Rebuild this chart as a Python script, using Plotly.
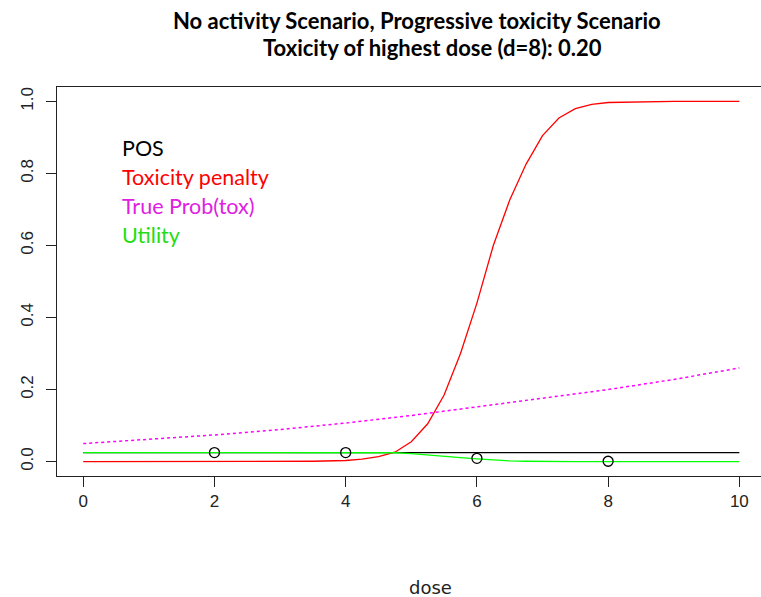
import plotly.graph_objects as go

# dosis continua para las curvas
dose_grid = [0, 1, 2, 3, 3.5, 4, 4.25, 4.5, 4.75, 5, 5.25, 5.5, 5.75, 6,
             6.25, 6.5, 6.75, 7, 7.25, 7.5, 7.75, 8, 8.5, 9, 10]

pos = [0.025] * len(dose_grid)

tox_penalty = [0, 0, 0, 0, 0.001, 0.003, 0.007, 0.014, 0.026, 0.055, 0.105,
               0.185, 0.30, 0.44, 0.60, 0.726, 0.826, 0.905, 0.954, 0.98,
               0.992, 0.997, 0.999, 1.0, 1.0]

utility = [0.025, 0.025, 0.025, 0.025, 0.025, 0.025, 0.025, 0.025, 0.0245,
           0.022, 0.019, 0.015, 0.011, 0.0075, 0.004, 0.002, 0.001, 0.0,
           0.0, 0.0, 0.0, 0.0, 0.0, 0.0, 0.0]

# probabilidad real de toxicidad
tox_dose = [0, 1, 2, 3, 4, 5, 6, 7, 8, 9, 10]
true_tox = [0.05, 0.061, 0.074, 0.089, 0.107, 0.128, 0.152, 0.178, 0.20, 0.228, 0.26]

# dosis observadas
obs_dose = [2, 4, 6, 8]
obs_util = [0.025, 0.025, 0.009, 0.001]

x_ticks = [0, 2, 4, 6, 8, 10]
y_ticks = [0.0, 0.2, 0.4, 0.6, 0.8, 1.0]

legend_items = ["POS", "Toxicity penalty", "True Prob(tox)", "Utility"]
legend_colors = ["black", "#ff0000", "#e020e0", "#22dd11"]

fig = go.Figure()
fig.add_trace(go.Scatter(x=dose_grid, y=pos, mode="lines",
                         line=dict(color="black", width=1.3)))
fig.add_trace(go.Scatter(x=dose_grid, y=tox_penalty, mode="lines",
                         line=dict(color="#ff0000", width=1.3)))
fig.add_trace(go.Scatter(x=tox_dose, y=true_tox, mode="lines",
                         line=dict(color="#ff00ff", width=1.5, dash="dot")))
fig.add_trace(go.Scatter(x=dose_grid, y=utility, mode="lines",
                         line=dict(color="#00ff00", width=1.3)))
fig.add_trace(go.Scatter(x=obs_dose, y=obs_util, mode="markers",
                         marker=dict(symbol="circle-open", size=10, color="black",
                                     line=dict(width=1.3))))

# textos de leyenda (R legend sin simbolos)
leg_y = [0.843, 0.769, 0.694, 0.62]
for txt, col, yy in zip(legend_items, legend_colors, leg_y):
    fig.add_annotation(x=0.0895, y=yy, xref="paper", yref="paper", text=txt,
                       showarrow=False, xanchor="left", yanchor="middle",
                       font=dict(family="Lato", size=21.5, color=col))

# titulo en dos lineas
fig.add_annotation(x=0.511, y=1.172, xref="paper", yref="paper",
                   text="<b>No activity Scenario, Progressive toxicity Scenario</b>",
                   showarrow=False, xanchor="center", yanchor="middle",
                   font=dict(family="Lato", size=22, color="black"))
fig.add_annotation(x=0.533, y=1.101, xref="paper", yref="paper",
                   text="<b>Toxicity of highest dose (d=8): 0.20</b>",
                   showarrow=False, xanchor="center", yanchor="middle",
                   font=dict(family="Lato", size=22, color="black"))

fig.add_annotation(x=0.53, y=-0.286, xref="paper", yref="paper", text="dose",
                   showarrow=False, xanchor="center", yanchor="middle",
                   font=dict(family="DejaVu Sans", size=18, color="#222"))

fig.update_layout(
    width=761, height=597,
    margin=dict(l=57, r=0, t=87, b=121, autoexpand=False),
    plot_bgcolor="white", paper_bgcolor="white",
    showlegend=False,
    font=dict(family="Liberation Sans", size=17, color="#222"),
)
fig.update_xaxes(
    range=[-0.4, 10.33], tickvals=x_ticks, ticks="outside", ticklen=10,
    tickcolor="#222", showline=True, linecolor="#222", linewidth=1,
    mirror=True, showgrid=False, zeroline=False, automargin=False,
)
fig.update_yaxes(
    range=[-0.04, 1.04], tickvals=y_ticks, tickformat=".1f", ticks="outside",
    ticklen=10, tickcolor="#222", tickangle=-90, showline=True,
    linecolor="#222", linewidth=1, showgrid=False, zeroline=False,
    ticklabelstandoff=6, automargin=False,
)

# quitar el margen por defecto del body para usar toda la ventana
fig.write_html("out.html", config={"displayModeBar": False},
               post_script="document.body.style.margin='0';document.body.style.overflow='hidden';")
